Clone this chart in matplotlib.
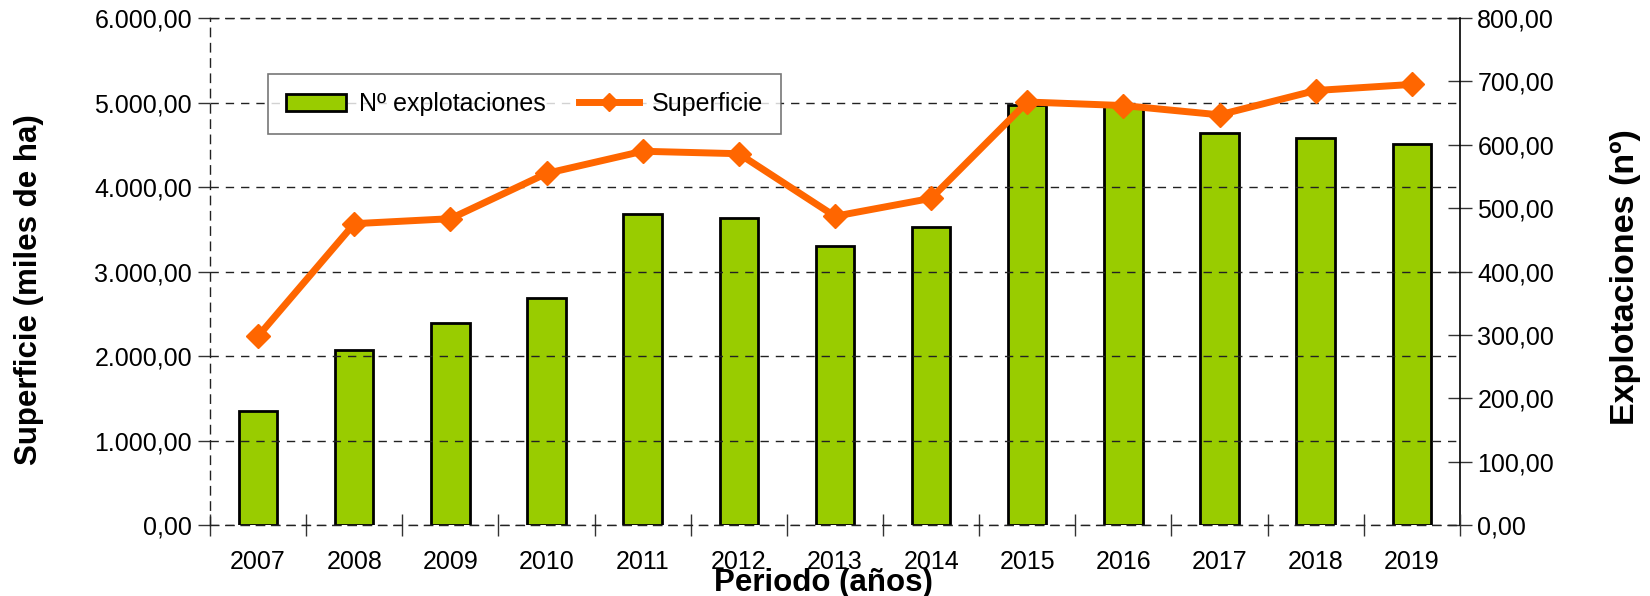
import matplotlib
matplotlib.use("Agg")
import matplotlib.pyplot as plt
from matplotlib.ticker import FuncFormatter, FixedLocator
from matplotlib.lines import Line2D

years = ["2007", "2008", "2009", "2010", "2011", "2012", "2013",
         "2014", "2015", "2016", "2017", "2018", "2019"]
explotaciones = [180, 276, 319, 358, 491, 484, 441, 470, 662, 661, 619, 610, 601]
superficie = [2235, 3566, 3625, 4161, 4423, 4394, 3654, 3866, 5006, 4964, 4854, 5142, 5214]

plt.rcParams['font.family'] = ['Liberation Sans', 'DejaVu Sans']

def es_fmt(v, pos=None):
    s = f"{v:,.2f}"
    return s.replace(",", "X").replace(".", ",").replace("X", ".")

fig = plt.figure(figsize=(16.5, 5.96), dpi=100)
ax = fig.add_axes([0.1273, 0.1191, 0.7575, 0.8507])
ax2 = ax.twinx()

x = list(range(len(years)))

# bars on right axis (explotaciones)
bars = ax2.bar(x, explotaciones, width=0.4, color="#99CC00", edgecolor="black",
               linewidth=2.0, label="Nº explotaciones", zorder=2)
# line on left axis (superficie)
ax.set_zorder(ax2.get_zorder() + 1)
ax.patch.set_visible(False)
line, = ax.plot(x, superficie, color="#FF6600", linewidth=5, marker="D",
                markersize=12, label="Superficie", zorder=5)

ax.set_xlim(-0.5, len(years) - 0.5)
ax.set_ylim(0, 6000)
ax2.set_ylim(0, 800)

ax.set_yticks([0, 1000, 2000, 3000, 4000, 5000, 6000])
ax2.set_yticks([0, 100, 200, 300, 400, 500, 600, 700, 800])
ax.yaxis.set_major_formatter(FuncFormatter(es_fmt))
ax2.yaxis.set_major_formatter(FuncFormatter(es_fmt))

ax.set_xticks(x)
ax.set_xticklabels(years)
ax.xaxis.set_minor_locator(FixedLocator([i + 0.5 for i in range(-1, len(years))]))
ax.tick_params(axis="x", which="major", length=0, labelsize=18, pad=18)
ax.tick_params(axis="x", which="minor", direction="inout", length=16, width=1, color="#333333")
ax.tick_params(axis="y", which="major", direction="out", length=9, width=1,
               labelsize=18, color="#333333", pad=4)
ax2.tick_params(axis="y", which="major", direction="inout", length=17, width=1,
                labelsize=18, color="#333333", pad=4)

ax.grid(axis="y", linestyle=(0, (6, 5)), color="#222222", linewidth=1.0)
ax.set_axisbelow(True)

for sp in ["left", "bottom", "top"]:
    ax.spines[sp].set_linestyle((0, (6, 5)))
    ax.spines[sp].set_color("#222222")
    ax.spines[sp].set_linewidth(1.0)
    ax2.spines[sp].set_visible(False)
ax.spines["right"].set_visible(False)
ax2.spines["right"].set_color("black")
ax2.spines["right"].set_linewidth(1.2)

ax.set_ylabel("Superficie (miles de ha)", fontsize=22.5, fontweight="bold")
ax.yaxis.set_label_coords(-0.133, 0.4635)
ax2.set_ylabel("Explotaciones (nº)", fontsize=24.5, fontweight="bold")
ax2.yaxis.set_label_coords(1.12, 0.489)
ax.set_xlabel("Periodo (años)", fontsize=22.5, fontweight="bold")
ax.xaxis.set_label_coords(0.4904, -0.085)

line_handle = Line2D([], [], color="#FF6600", linewidth=5, marker="D", markersize=9)
leg = ax.legend([bars, line_handle], ["Nº explotaciones", "Superficie"], ncol=2,
                loc="upper left", bbox_to_anchor=(0.0464, 0.8895), fontsize=18,
                frameon=True, fancybox=False, shadow=False, borderpad=0.72,
                borderaxespad=0, handlelength=2.4, handleheight=0.65,
                columnspacing=1.35, handletextpad=0.5)
leg.get_frame().set_edgecolor("#555555")
leg.get_frame().set_linewidth(1.2)

fig.savefig("out.png", dpi=100)
